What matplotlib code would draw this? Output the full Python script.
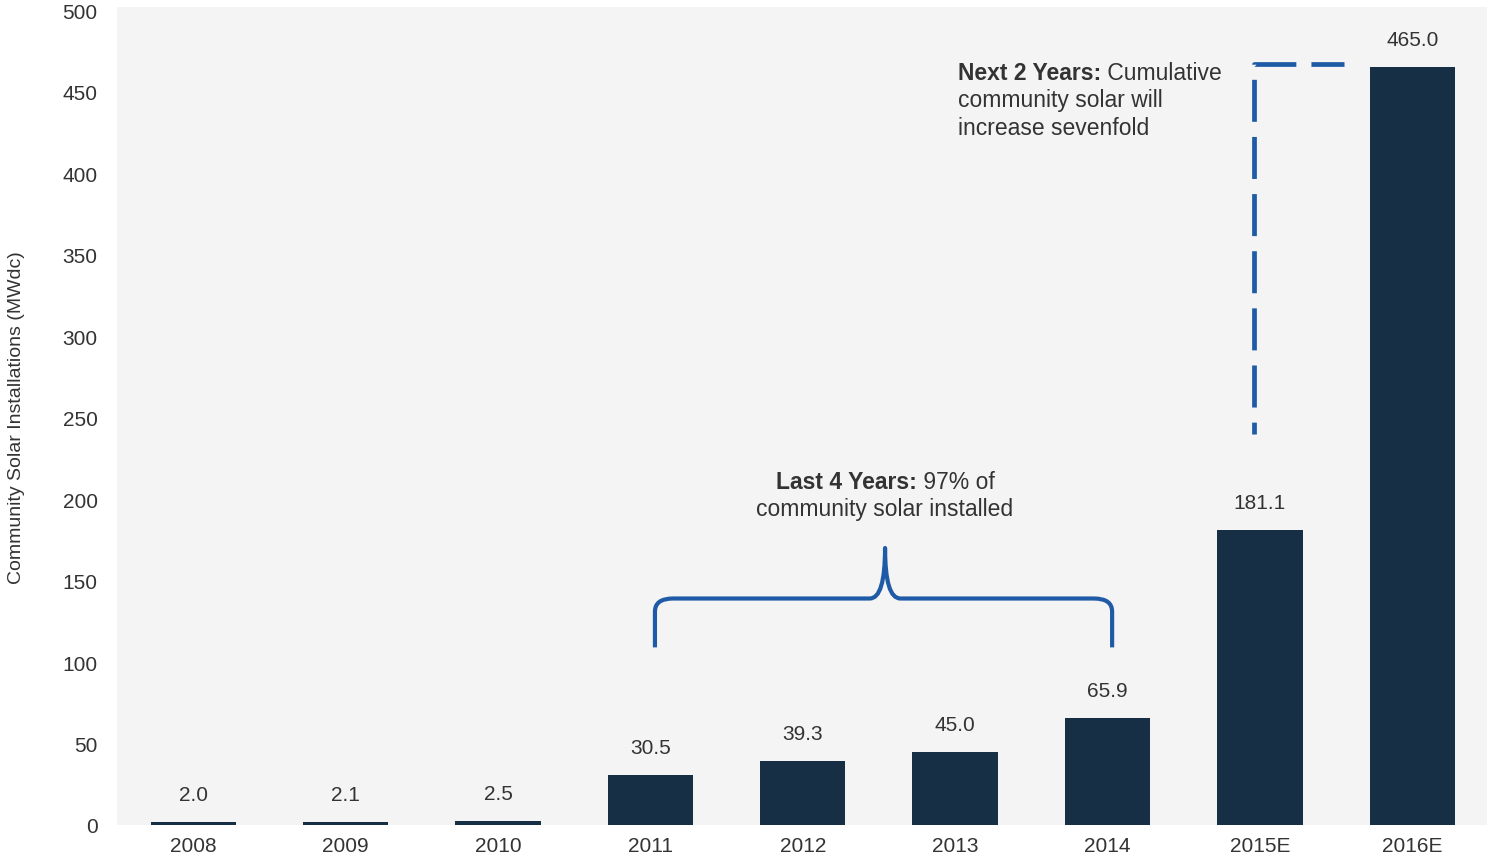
import numpy as np
import matplotlib
matplotlib.use("Agg")
import matplotlib.pyplot as plt
from matplotlib.path import Path
from matplotlib.patches import PathPatch

years = ["2008", "2009", "2010", "2011", "2012", "2013", "2014", "2015E", "2016E"]
values = [2.0, 2.1, 2.5, 30.5, 39.3, 45.0, 65.9, 181.1, 465.0]
labels = ["2.0", "2.1", "2.5", "30.5", "39.3", "45.0", "65.9", "181.1", "465.0"]

BAR = "#172f45"
BLUE = "#1f5aa6"
TXT = "#333333"

plt.rcParams["font.family"] = ["Liberation Sans", "DejaVu Sans"]

fig = plt.figure(figsize=(14.87, 8.62), dpi=100)
ax = fig.add_axes([117 / 1487, 36 / 862, 1 - 117 / 1487, (826 - 8) / 862])
ax.set_facecolor("#f4f4f4")
for s in ax.spines.values():
    s.set_visible(False)

x = np.arange(len(years))
# tiny values show up as a thin base line in the original
draw_h = [max(v, 1.8) for v in values]
ax.bar(x, draw_h, width=0.56, color=BAR, zorder=3)
for xi, v, lab in zip(x, values, labels):
    ax.text(xi, max(v, 1.8) + 11, lab, ha="center", va="bottom", fontsize=15, color=TXT)

ax.set_xlim(-0.5, 8.49)
ax.set_ylim(0, 502)
ax.set_xticks(x)
ax.set_xticklabels(years, fontsize=15, color=TXT)
ax.set_yticks(np.arange(0, 501, 50))
ax.set_yticklabels([str(v) for v in range(0, 501, 50)], fontsize=15, color=TXT)
ax.tick_params(length=0, pad=8)
ax.tick_params(axis="y", pad=14)

fig.text(17 / 1487, 1 - 418 / 862, "Community Solar Installations (MWdc)",
         rotation=90, ha="center", va="center", fontsize=14, color=TXT)

# brace over 2011-2014
xl, xr, xm = 3.03, 6.03, 4.54
yb, yh, yt = 109, 139, 170
r = 0.12
verts = [(xl, yb), (xl, yh - 8), (xl, yh), (xl + r, yh),
         (xm - 0.1, yh), (xm, yh), (xm, yt),
         (xm, yh), (xm + 0.1, yh),
         (xr - r, yh), (xr, yh), (xr, yh - 8), (xr, yb)]
codes = [Path.MOVETO, Path.LINETO, Path.CURVE3, Path.CURVE3,
         Path.LINETO, Path.CURVE3, Path.CURVE3,
         Path.CURVE3, Path.CURVE3,
         Path.LINETO, Path.CURVE3, Path.CURVE3, Path.LINETO]
ax.add_patch(PathPatch(Path(verts, codes), fill=False, edgecolor=BLUE, lw=3, zorder=4,
                       capstyle="butt", joinstyle="round"))

# dashed elbow toward 2016E (drawn from the right end so the dashes start there)
ax.plot([7.55, 6.96, 6.96], [467, 467, 240], color=BLUE, lw=3.4,
        linestyle=(1.9, (8.9, 3.2)), solid_joinstyle="round",
        dash_joinstyle="round", zorder=4)


def rich(xd, yd, bold, rest, ha="left"):
    fig.canvas.draw()
    rend = fig.canvas.get_renderer()
    t1 = ax.text(xd, yd, bold, fontsize=16.5, fontweight="bold", color=TXT, va="center")
    t2 = ax.text(xd, yd, rest, fontsize=16.5, color=TXT, va="center")
    w1 = t1.get_window_extent(rend).width
    w2 = t2.get_window_extent(rend).width
    px, py = ax.transData.transform((xd, yd))
    if ha == "center":
        px -= (w1 + w2) / 2
    t1.set_position(ax.transData.inverted().transform((px, py)))
    t2.set_position(ax.transData.inverted().transform((px + w1, py)))


rich(4.54, 211, "Last 4 Years:", " 97% of", ha="center")
ax.text(4.54, 194, "community solar installed", fontsize=16.5, color=TXT, ha="center", va="center")

rich(5.02, 462, "Next 2 Years:", " Cumulative")
ax.text(5.02, 445, "community solar will", fontsize=16.5, color=TXT, va="center")
ax.text(5.02, 428, "increase sevenfold", fontsize=16.5, color=TXT, va="center")

fig.savefig("out.png", dpi=100)
